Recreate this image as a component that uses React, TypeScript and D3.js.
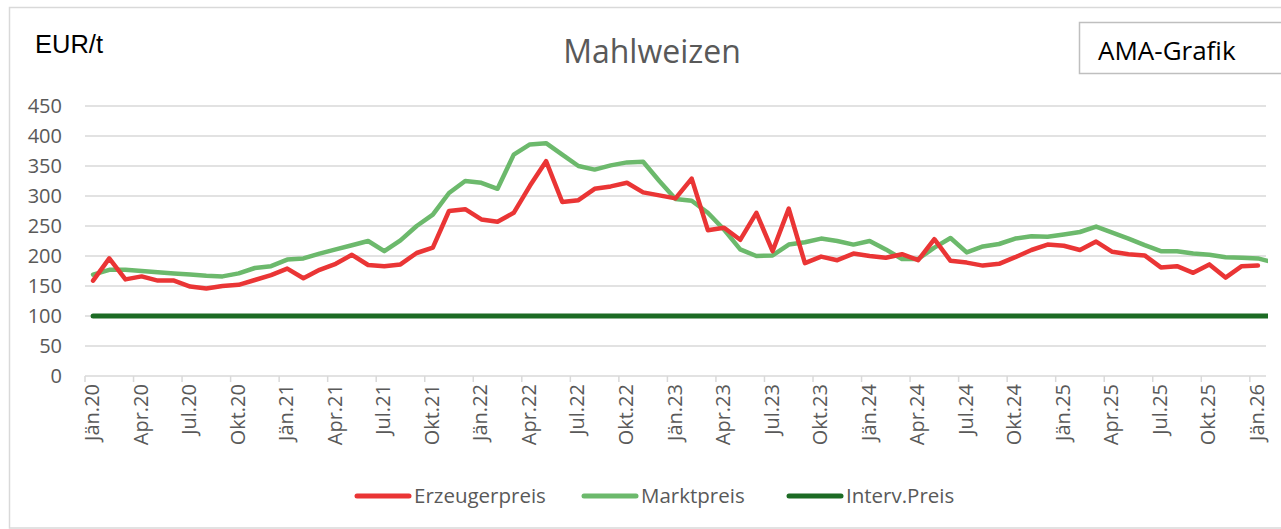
import * as d3 from 'd3';

const MONTHS = ['Jän', 'Feb', 'Mär', 'Apr', 'Mai', 'Jun', 'Jul', 'Aug', 'Sep', 'Okt', 'Nov', 'Dez'];
const YEARS = [20, 21, 22, 23, 24, 25, 26];

// one category per month, Jän.20 .. Jän.26
const categories: string[] = YEARS.flatMap(y => MONTHS.map(m => `${m}.${y}`)).slice(0, 73);
const tickLabels = categories.filter((_, i) => i % 3 === 0);

const erzeugerpreis = [
  159, 196, 161, 166, 159, 159, 149, 146, 150, 152, 160, 168,
  179, 163, 177, 187, 202, 185, 183, 186, 205, 214, 275, 278,
  261, 257, 272, 317, 358, 290, 293, 312, 316, 322, 306, 301,
  296, 329, 243, 247, 227, 272, 208, 279, 188, 199, 193, 204,
  200, 197, 203, 193, 228, 192, 189, 184, 187, 198, 210, 219,
  217, 210, 224, 207, 203, 201, 181, 183, 172, 186, 164, 183,
  184,
];

// includes one value past the last category, cut at the plot edge
const marktpreis = [
  169, 177, 177, 175, 173, 171, 169, 167, 166, 171, 180, 183,
  194, 196, 204, 211, 218, 225, 208, 226, 250, 269, 305, 325,
  322, 312, 369, 386, 388, 369, 350, 344, 351, 356, 357, 325,
  295, 292, 272, 244, 211, 200, 201, 219, 223, 229, 225, 219,
  225, 211, 195, 195, 214, 230, 206, 216, 220, 229, 233, 232,
  236, 240, 249, 239, 229, 218, 208, 208, 204, 202, 198, 197,
  196, 189,
];

const intervPreis = Array.from({ length: 74 }, () => 100);

const yTicks = [0, 50, 100, 150, 200, 250, 300, 350, 400, 450];

const series = [
  { name: 'Erzeugerpreis', values: erzeugerpreis, color: '#ea3535', width: 4.5 },
  { name: 'Marktpreis', values: marktpreis, color: '#6cb96c', width: 4.5 },
  { name: 'Interv.Preis', values: intervPreis, color: '#1c6b24', width: 5 },
];

const W = 1281;
const H = 529;
const plot = { left: 85, right: 1266, top: 106, bottom: 376 };
const FONT = '"Open Sans", "Noto Sans", sans-serif';

export default function App() {
  const x = d3.scaleLinear()
    .domain([-0.5, categories.length - 0.5])
    .range([plot.left, plot.right]);

  const y = d3.scaleLinear()
    .domain([0, 450])
    .range([plot.bottom, plot.top]);

  const line = d3.line<number>()
    .x((_, i) => x(i))
    .y(d => y(d));

  const boundaries = d3.range(0, categories.length + 1, 3);

  const legendX = [355, 582, 787];

  return (
    <svg width={W} height={H} style={{ position: 'absolute', left: 0, top: 0, background: '#fff' }}>
      <rect x={9.5} y={7.5} width={W + 20} height={H - 8.5} fill="#fff" stroke="#d9d9d9" strokeWidth={1.5} />

      <text x={35} y={53} fontFamily='"Liberation Sans", Arial, sans-serif' fontSize={25.5} fill="#000">EUR/t</text>
      <text x={652} y={63} textAnchor="middle" fontFamily={FONT} fontSize={32} fill="#595959">Mahlweizen</text>

      <rect x={1079.5} y={22.5} width={240} height={51} fill="#fff" stroke="#bfbfbf" strokeWidth={1.5} />
      <text x={1098} y={60} fontFamily={FONT} fontSize={26} fill="#000">AMA-Grafik</text>

      <defs>
        <clipPath id="plotClip">
          <rect x={plot.left} y={0} width={plot.right - plot.left + 2} height={H} />
        </clipPath>
      </defs>

      {/* gridlines */}
      {yTicks.map(t => (
        <line key={t} x1={plot.left} x2={plot.right} y1={y(t)} y2={y(t)} stroke="#d9d9d9" strokeWidth={1.5} />
      ))}

      {/* x axis ticks */}
      {boundaries.map(b => (
        <line key={b} x1={x(b - 0.5)} x2={x(b - 0.5)} y1={plot.bottom} y2={plot.bottom + 6} stroke="#d9d9d9" strokeWidth={1.5} />
      ))}

      {/* y labels */}
      {yTicks.map(t => (
        <text key={t} x={62} y={y(t)} dy="0.36em" textAnchor="end" fontFamily={FONT} fontSize={20} fill="#595959">{t}</text>
      ))}

      {/* x labels */}
      {tickLabels.map((lab, k) => {
        const cx = x(k * 3);
        return (
          <text key={lab} transform={`translate(${cx + 6},${plot.bottom + 8}) rotate(-90)`} textAnchor="end"
            fontFamily={FONT} fontSize={20} fill="#595959">{lab}</text>
        );
      })}

      <g clipPath="url(#plotClip)">
        {[series[2], series[1], series[0]].map(s => (
          <path key={s.name} d={line(s.values) ?? ''} fill="none" stroke={s.color} strokeWidth={s.width}
            strokeLinejoin="round" strokeLinecap="round" />
        ))}
      </g>

      {/* legend */}
      {series.map((s, i) => (
        <g key={s.name}>
          <line x1={legendX[i] + 2} x2={legendX[i] + 54} y1={496} y2={496} stroke={s.color} strokeWidth={5} strokeLinecap="round" />
          <text x={legendX[i] + 59} y={496} dy="0.36em" fontFamily={FONT} fontSize={20.5} fill="#595959">{s.name}</text>
        </g>
      ))}
    </svg>
  );
}
